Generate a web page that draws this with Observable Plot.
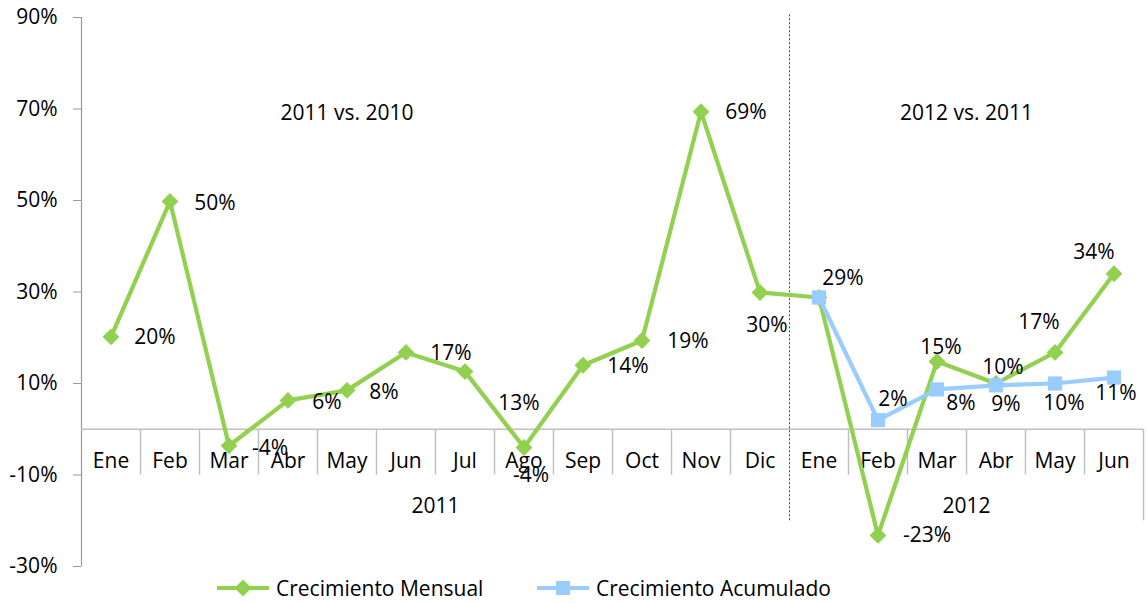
<!DOCTYPE html>
<html>
<head>
<meta charset="utf-8">
<script src="https://cdn.jsdelivr.net/npm/d3@7"></script>
<script src="https://cdn.jsdelivr.net/npm/@observablehq/plot@0.6"></script>
<style>
  html, body { margin: 0; padding: 0; background: #fff; }
  #wrap { width: 1148px; position: relative; font-family: "Open Sans", sans-serif; }
  #legend { position: relative; height: 31px; width: 1148px; font-size: 21px; color: #000; }
  .item { position: absolute; top: 0; height: 31px; display: flex; align-items: center; }
  .item svg { display: block; }
  .item span { margin-left: 7px; white-space: nowrap; }
</style>
</head>
<body>
<div id="wrap"><div id="chart"></div>
<div id="legend">
  <div class="item" id="lg1"></div>
  <div class="item" id="lg2"></div>
</div></div>
<script>
// ---------- data ----------
const months = ["Ene","Feb","Mar","Abr","May","Jun","Jul","Ago","Sep","Oct","Nov","Dic","Ene","Feb","Mar","Abr","May","Jun"];
const years = ["2011", "2012"];
const yearMonthCounts = [12, 6];
const periodTitles = ["2011 vs. 2010", "2012 vs. 2011"];
const seriesNames = ["Crecimiento Mensual", "Crecimiento Acumulado"];
const mensual = [20.2, 49.8, -3.6, 6.3, 8.5, 16.8, 12.6, -4.0, 14.0, 19.4, 69.4, 29.9, 28.8, -23.2, 14.8, 10.0, 16.8, 34.0];
const mensualLabels = ["20%","50%","-4%","6%","8%","17%","13%","-4%","14%","19%","69%","30%","29%","-23%","15%","10%","17%","34%"];
const acumulado = [null,null,null,null,null,null,null,null,null,null,null,null, 28.8, 2.0, 8.7, 9.6, 10.0, 11.3];
// Ene 2012 label of this series coincides with the green one (a single "29%" is shown)
const acumuladoLabels = [null,null,null,null,null,null,null,null,null,null,null,null, null,"2%","8%","9%","10%","11%"];
const yTicks = [-30, -10, 10, 30, 50, 70, 90];

// ---------- label placement (pixel nudges, style only) ----------
const mensualNudge = [[44,0],[45,2],[41,3],[39,2],[37,2],[45,1],[54,32],[7,28],[45,1],[46,1],[45,1],[7,33],[24,-19],[49,0],[4,-14],[7,-16],[-16,-30],[-20,-21]];
const acumuladoNudge = [null,null,null,null,null,null,null,null,null,null,null,null,[24,-19],[15,-21],[24,14],[10,19],[9,20],[2,16]];

// ---------- styles ----------
const green = "#92D050", blue = "#99CCFF";
const fontFamily = "Open Sans, sans-serif";
const fs = 21;

const rowsM = months.map((m, i) => ({i, v: mensual[i], lab: mensualLabels[i], n: mensualNudge[i]}));
const rowsA = months.map((m, i) => ({i, v: acumulado[i], lab: acumuladoLabels[i], n: acumuladoNudge[i]})).filter(d => d.v != null);
const rowsALab = rowsA.filter(d => d.lab != null);

// group boundaries
const starts = [];
let acc = 0;
yearMonthCounts.forEach(c => { starts.push(acc); acc += c; });
const groupBounds = starts.map(s => s - 0.5).concat([acc - 0.5]);
const innerSeps = d3.range(0, months.length - 1).map(i => i + 0.5).filter(b => !groupBounds.includes(b));
const yearCenters = starts.map((s, k) => s + (yearMonthCounts[k] - 1) / 2);
const yDomain = [-30, 90];
const depth1 = -10, depth2 = -20; // table row depths (in y units)

const marks = [
  // y axis line
  Plot.ruleX([-0.5], {y1: yDomain[0], y2: yDomain[1], stroke: "#9a9a9a", strokeWidth: 1.2}),
  Plot.axisY({ticks: yTicks, tickFormat: d => d + "%", tickSize: 8, tickPadding: 16, stroke: "#9a9a9a", fill: "#000", fontSize: fs, label: null}),
  // category table
  Plot.ruleY([0], {stroke: "#c0c0c0", strokeWidth: 1.5}),
  Plot.ruleX(innerSeps, {y1: 0, y2: depth1, stroke: "#c0c0c0", strokeWidth: 1.5}),
  Plot.ruleX([groupBounds[groupBounds.length - 1]], {y1: 0, y2: depth2, stroke: "#c0c0c0", strokeWidth: 1.5}),
  Plot.ruleX(groupBounds.slice(1, -1), {y1: depth2, y2: 91, stroke: "#444", strokeWidth: 1, strokeDasharray: "2,2"}),
  Plot.text(months.map((m, i) => ({i, m})), {x: "i", y: () => 0, text: "m", dy: 32, fontSize: fs, fill: "#000"}),
  Plot.text(years.map((y, k) => ({x: yearCenters[k], y})), {x: "x", y: () => 0, text: "y", dy: 77, fontSize: fs, fill: "#000"}),
  // period titles
  Plot.text(periodTitles.map((t, k) => ({x: k === 0 ? 4 : 14.5, t})), {x: "x", y: () => 69, text: "t", fontSize: fs, fill: "#000"}),
  // series
  Plot.line(rowsM, {x: "i", y: "v", stroke: green, strokeWidth: 4.2}),
  Plot.dot(rowsM, {x: "i", y: "v", symbol: "diamond2", r: 7.6, fill: green, stroke: "none"}),
  Plot.line(rowsA, {x: "i", y: "v", stroke: blue, strokeWidth: 4.2}),
  Plot.dot(rowsA, {x: "i", y: "v", symbol: "square", r: 8, fill: blue, stroke: "none"}),
  ...rowsM.map(r => Plot.text([r], {x: "i", y: "v", text: "lab", dx: r.n[0], dy: r.n[1], fontSize: fs, fill: "#000"})),
  ...rowsALab.map(r => Plot.text([r], {x: "i", y: "v", text: "lab", dx: r.n[0], dy: r.n[1], fontSize: fs, fill: "#000"}))
];

const chart = Plot.plot({
  width: 1148,
  height: 572,
  marginLeft: 81,
  marginRight: 5,
  marginTop: 17,
  marginBottom: 6,
  style: {fontFamily, fontSize: fs + "px", background: "#fff", color: "#000", overflow: "visible"},
  x: {type: "linear", domain: [-0.5, months.length - 0.5], axis: null},
  y: {domain: yDomain, axis: null},
  marks
});
document.getElementById("chart").appendChild(chart);

// legend
function swatch(color, kind) {
  const w = 52, h = 22;
  const mk = kind === "diamond"
    ? `<path d="M${w/2},${h/2-8.5}L${w/2+8.5},${h/2}L${w/2},${h/2+8.5}L${w/2-8.5},${h/2}Z" fill="${color}"/>`
    : `<rect x="${w/2-7}" y="${h/2-7}" width="14" height="14" fill="${color}"/>`;
  return `<svg width="${w}" height="${h}"><line x1="0" x2="${w}" y1="${h/2}" y2="${h/2}" stroke="${color}" stroke-width="4"/>${mk}</svg>`;
}
const lg1 = document.getElementById("lg1"), lg2 = document.getElementById("lg2");
lg1.style.left = "217px";
lg2.style.left = "537px";
lg1.innerHTML = swatch(green, "diamond") + `<span>${seriesNames[0]}</span>`;
lg2.innerHTML = swatch(blue, "square") + `<span>${seriesNames[1]}</span>`;
</script>
</body>
</html>
